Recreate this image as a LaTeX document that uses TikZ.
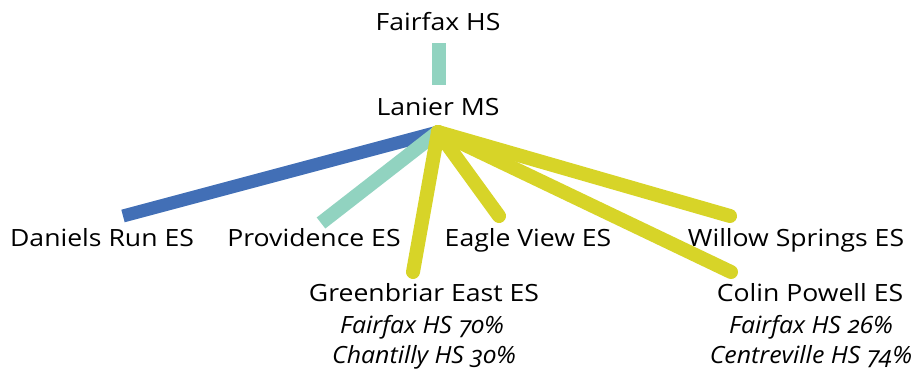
\documentclass[tikz,border=0pt]{standalone}
\usepackage{fontspec}
\setmainfont{Open Sans}[UprightFeatures={FakeStretch=1.12}, ItalicFeatures={FakeStretch=1.05}]
\usetikzlibrary{positioning}

\definecolor{runblue}{RGB}{66,111,182}
\definecolor{paleteal}{RGB}{145,211,192}
\definecolor{limeyellow}{RGB}{215,212,40}

\tikzset{
  school/.style={font=\fontsize{17.8}{20}\selectfont, inner sep=0pt, anchor=base},
  share/.style={font=\fontsize{17.8}{20}\selectfont\itshape\addfontfeatures{Numbers=OldStyle}, inner sep=0pt, anchor=base},
  blueline/.style={draw=runblue, line width=9.75pt},
  tealline/.style={draw=paleteal, line width=10.5pt},
  yellowline/.style={draw=limeyellow, line width=10.5pt, line cap=round}
}

\begin{document}
\begin{tikzpicture}[x=0.75pt,y=0.75pt,yscale=-1,xscale=1]
\useasboundingbox (0,0) rectangle (913,371);

% Text Nodes
\node[school] (fairfax) at (438,30) {Fairfax HS};
\node[school] (lanier) at (438,115) {Lanier MS};
\node[school] (daniels) at (102,246) {Daniels Run ES};
\node[school] (providence) at (314,246) {Providence ES};
\node[school] (eagle) at (528,246) {Eagle View ES};
\node[school] (willow) at (796,246) {Willow Springs ES};
\node[school] (greenbriar) at (424,301) {Greenbriar East ES};
\node[share] (gbfairfax) at (422,333) {Fairfax HS 70\%};
\node[share] (gbchantilly) at (424,363) {Chantilly HS 30\%};
\node[school] (powell) at (810,301) {Colin Powell ES};
\node[share] (cpfairfax) at (811,333) {Fairfax HS 26\%};
\node[share] (cpcentre) at (811,363) {Centreville HS 74\%};

% line ends
\coordinate (hstop) at (439,43);
\coordinate (msbot) at (439,85);
\coordinate (hub) at (438,132);
\coordinate (danielsend) at (123,216);
\coordinate (provend) at (321,223);
\coordinate (gbend) at (413,272);
\coordinate (eagleend) at (499,216);
\coordinate (willowend) at (730,216);
\coordinate (powellend) at (731,272);

% Straight Lines
\draw[tealline] (hstop) -- (msbot);
\draw[blueline] (hub) -- (danielsend);
\draw[tealline] (hub) -- (provend);
\draw[yellowline] (hub) -- (gbend);
\draw[yellowline] (hub) -- (eagleend);
\draw[yellowline] (hub) -- (willowend);
\draw[yellowline] (hub) -- (powellend);

\end{tikzpicture}
\end{document}
